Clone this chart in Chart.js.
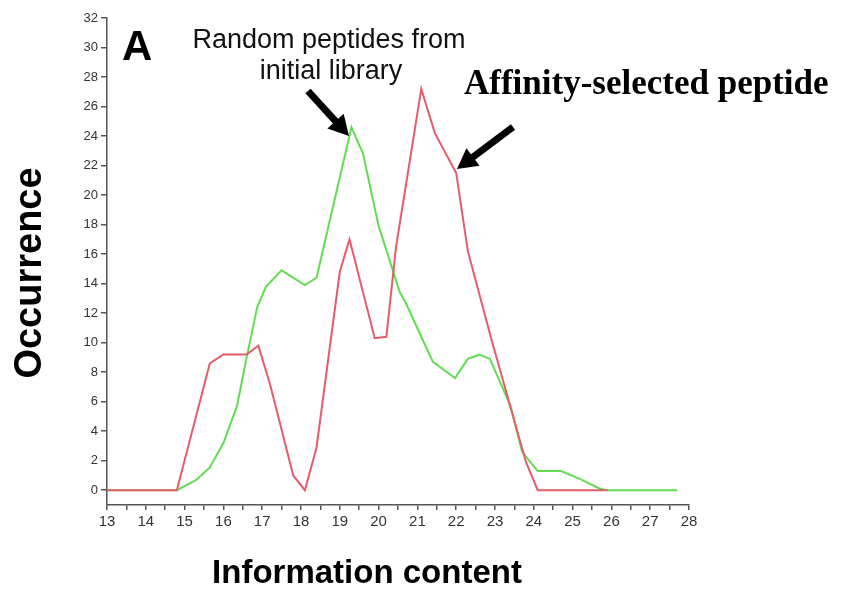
<!DOCTYPE html>
<html>
<head>
<meta charset="utf-8">
<script src="https://cdn.jsdelivr.net/npm/chart.js@4/dist/chart.umd.min.js"></script>
<style>
  html, body { margin: 0; padding: 0; background: #fff; }
  #chart { display: block; }
</style>
</head>
<body>
<canvas id="chart" width="846" height="594"></canvas>
<script>
// affinity-selected peptides (red)
const selectedX = [13, 14.8, 15.65, 16.0, 16.6, 16.9, 17.2, 17.8, 18.1, 18.4, 19.0, 19.25, 19.9, 20.2, 20.45, 21.1, 21.45, 22.0, 22.3, 22.9, 23.8, 24.1, 25.9]
const selectedY = [0, 0, 8.6, 9.2, 9.2, 9.8, 7.2, 1.0, 0, 2.9, 14.8, 17.0, 10.3, 10.4, 16.5, 27.2, 24.2, 21.5, 16.2, 10.3, 1.9, 0, 0]

// random peptides from initial library (green)
const randomX = [13, 14.8, 15.3, 15.65, 16.0, 16.35, 16.6, 16.87, 17.1, 17.5, 18.1, 18.4, 19.3, 19.6, 20.0, 20.55, 20.7, 21.1, 21.4, 21.97, 22.3, 22.6, 22.87, 23.4, 23.7, 24.1, 24.7, 25.2, 25.7, 25.9, 27.7]
const randomY = [0, 0, 0.7, 1.55, 3.2, 5.7, 9.0, 12.4, 13.8, 14.9, 13.9, 14.4, 24.6, 22.8, 17.9, 13.4, 12.7, 10.4, 8.7, 7.6, 8.9, 9.2, 8.9, 5.7, 2.6, 1.3, 1.3, 0.75, 0.1, 0, 0]

const xTickValues = [13, 13.5, 14, 14.5, 15, 15.5, 16, 16.5, 17, 17.5, 18, 18.5, 19, 19.5, 20, 20.5, 21, 21.5, 22, 22.5, 23, 23.5, 24, 24.5, 25, 25.5, 26, 26.5, 27, 27.5, 28]
const xTickLabels = ["13", "14", "15", "16", "17", "18", "19", "20", "21", "22", "23", "24", "25", "26", "27", "28"]
const yTickValues = [0, 2, 4, 6, 8, 10, 12, 14, 16, 18, 20, 22, 24, 26, 28, 30, 32]

const toPoints = (xs, ys) => xs.map((x, i) => ({ x, y: ys[i] }))

const axisColor = "#555"
const labelColor = "#333"

const drawArrow = (ctx, x1, y1, x2, y2) => {
  const angle = Math.atan2(y2 - y1, x2 - x1)
  const headLen = 20
  const headHalf = 11
  const bx = x2 - headLen * Math.cos(angle)
  const by = y2 - headLen * Math.sin(angle)
  ctx.save()
  ctx.strokeStyle = "#000"
  ctx.fillStyle = "#000"
  ctx.lineWidth = 7
  ctx.lineCap = "butt"
  ctx.beginPath()
  ctx.moveTo(x1, y1)
  ctx.lineTo(bx + 2 * Math.cos(angle), by + 2 * Math.sin(angle))
  ctx.stroke()
  ctx.beginPath()
  ctx.moveTo(x2, y2)
  ctx.lineTo(bx - headHalf * Math.sin(angle), by + headHalf * Math.cos(angle))
  ctx.lineTo(bx + headHalf * Math.sin(angle), by - headHalf * Math.cos(angle))
  ctx.closePath()
  ctx.fill()
  ctx.restore()
}

const annotations = {
  id: "annotations",
  afterDraw(chart) {
    const ctx = chart.ctx
    ctx.save()
    ctx.fillStyle = "#000"

    // panel letter
    ctx.font = "bold 42px 'Liberation Sans', Arial, sans-serif"
    ctx.textAlign = "left"
    ctx.textBaseline = "alphabetic"
    ctx.fillText("A", 122, 60)

    // random library label
    ctx.fillStyle = "#111"
    ctx.font = "27px 'Liberation Sans', Arial, sans-serif"
    ctx.textAlign = "center"
    ctx.fillText("Random peptides from", 329, 48)
    ctx.fillText("initial library", 331, 79)

    // affinity-selected label
    ctx.fillStyle = "#000"
    ctx.font = "bold 35px 'Liberation Serif', 'Times New Roman', serif"
    ctx.textAlign = "left"
    ctx.fillText("Affinity-selected peptide", 464, 94)

    // axis titles
    ctx.font = "bold 33px 'Liberation Sans', Arial, sans-serif"
    ctx.textAlign = "center"
    ctx.fillText("Information content", 367, 583)

    ctx.save()
    ctx.translate(41, 273)
    ctx.rotate(-Math.PI / 2)
    ctx.font = "bold 38px 'Liberation Sans', Arial, sans-serif"
    ctx.fillText("Occurrence", 0, 0)
    ctx.restore()

    drawArrow(ctx, 308, 91, 349, 136)
    drawArrow(ctx, 513, 127, 457, 169)
    ctx.restore()
  }
}

new Chart(document.getElementById("chart"), {
  type: "line",
  data: {
    datasets: [
      {
        label: "Affinity-selected peptide",
        data: toPoints(selectedX, selectedY),
        borderColor: "#e45d68",
        borderWidth: 2,
        pointRadius: 0,
        tension: 0,
        fill: false
      },
      {
        label: "Random peptides from initial library",
        data: toPoints(randomX, randomY),
        borderColor: "#62dc52",
        borderWidth: 2,
        pointRadius: 0,
        tension: 0,
        fill: false
      }
    ]
  },
  options: {
    responsive: false,
    animation: false,
    layout: {
      padding: { top: 18, right: 157, left: 0, bottom: 0 }
    },
    plugins: {
      legend: { display: false },
      tooltip: { enabled: false }
    },
    scales: {
      x: {
        type: "linear",
        min: 13,
        max: 28,
        afterBuildTicks: (scale) => {
          scale.ticks = xTickValues.map((value) => ({ value }))
        },
        afterFit: (scale) => {
          scale.height = 89
        },
        ticks: {
          autoSkip: false,
          maxRotation: 0,
          padding: 3,
          color: labelColor,
          font: { family: "'Liberation Sans', Arial, sans-serif", size: 15 },
          callback: (value) => {
            const label = String(value)
            return xTickLabels.includes(label) ? label : ""
          }
        },
        grid: {
          drawOnChartArea: false,
          drawTicks: true,
          tickLength: 5,
          color: axisColor,
          lineWidth: 1.5
        },
        border: { color: axisColor, width: 1.5 }
      },
      y: {
        min: -1,
        max: 32,
        afterBuildTicks: (scale) => {
          scale.ticks = yTickValues.map((value) => ({ value }))
        },
        afterFit: (scale) => {
          scale.width = 107
        },
        ticks: {
          autoSkip: false,
          padding: 3,
          color: labelColor,
          font: { family: "'Liberation Sans', Arial, sans-serif", size: 13 }
        },
        grid: {
          drawOnChartArea: false,
          drawTicks: true,
          tickLength: 6,
          color: axisColor,
          lineWidth: 1.5
        },
        border: { color: axisColor, width: 1.5 }
      }
    }
  },
  plugins: [annotations]
})
</script>
</body>
</html>
